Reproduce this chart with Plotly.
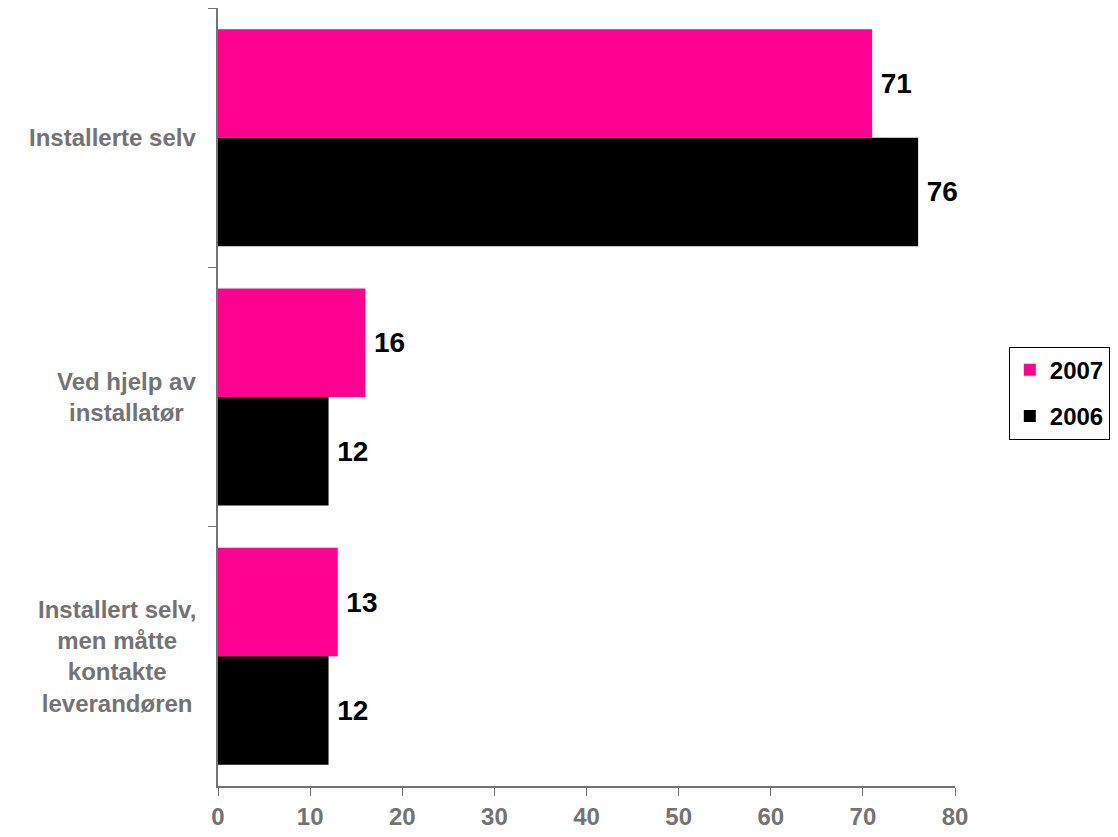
import plotly.graph_objects as go

categories = ["Installerte selv", "Ved hjelp av<br>installatør", "Installert selv,<br>men måtte<br>kontakte<br>leverandøren"]
cat_keys = ["c1", "c2", "c3"]
series_names = ["2007", "2006"]
values_2007 = [71, 16, 13]
values_2006 = [76, 12, 12]
colors = ["#FF0090", "#000000"]
x_ticks = [0, 10, 20, 30, 40, 50, 60, 70, 80]

FONT = "Liberation Sans, Arial, sans-serif"
GRAY = "#737373"

fig = go.Figure()
for i, (name, vals, col) in enumerate(zip(series_names, [values_2007, values_2006], colors)):
    fig.add_trace(go.Bar(
        y=cat_keys, x=vals, name=name, orientation="h",
        legendgroup=f"g{i}",
        marker=dict(color=col, line=dict(width=0)),
        text=[f"\u2009{v}" for v in vals], textposition="outside",
        textfont=dict(family=FONT, size=28, color="black", weight="bold"),
        cliponaxis=False,
    ))

# page has an 8px body margin: figure is placed at (8, 8)
fig.update_layout(
    width=1110, height=829,
    margin=dict(l=210, r=163, t=0, b=51),
    barmode="group", bargap=0.163, bargroupgap=0,
    plot_bgcolor="white", paper_bgcolor="white",
    font=dict(family=FONT),
    legend=dict(
        x=1.073, y=0.505, xanchor="left", yanchor="middle",
        bordercolor="black", borderwidth=1,
        font=dict(family=FONT, size=24, color="black", weight="bold"),
        traceorder="grouped", tracegroupgap=12, itemwidth=30,
    ),
    xaxis=dict(
        range=[0, 80], tickvals=x_ticks, ticks="outside", ticklen=8,
        tickcolor=GRAY, showline=True, linecolor=GRAY, linewidth=2,
        showgrid=False, zeroline=False,
        tickfont=dict(family=FONT, size=24, color=GRAY, weight="bold"),
    ),
    yaxis=dict(
        categoryorder="array", categoryarray=cat_keys, autorange="reversed",
        tickson="boundaries", ticks="outside", ticklen=8, tickcolor=GRAY,
        showticklabels=False, showline=True, linecolor=GRAY, linewidth=2,
        showgrid=False,
    ),
)

for key, label in zip(cat_keys, categories):
    fig.add_annotation(
        xref="paper", yref="y", x=-0.027, y=key, text=label,
        xanchor="right", yanchor="middle", align="center", showarrow=False,
        font=dict(family=FONT, size=24, color=GRAY, weight="bold"),
    )

fig.write_html("out.html")
